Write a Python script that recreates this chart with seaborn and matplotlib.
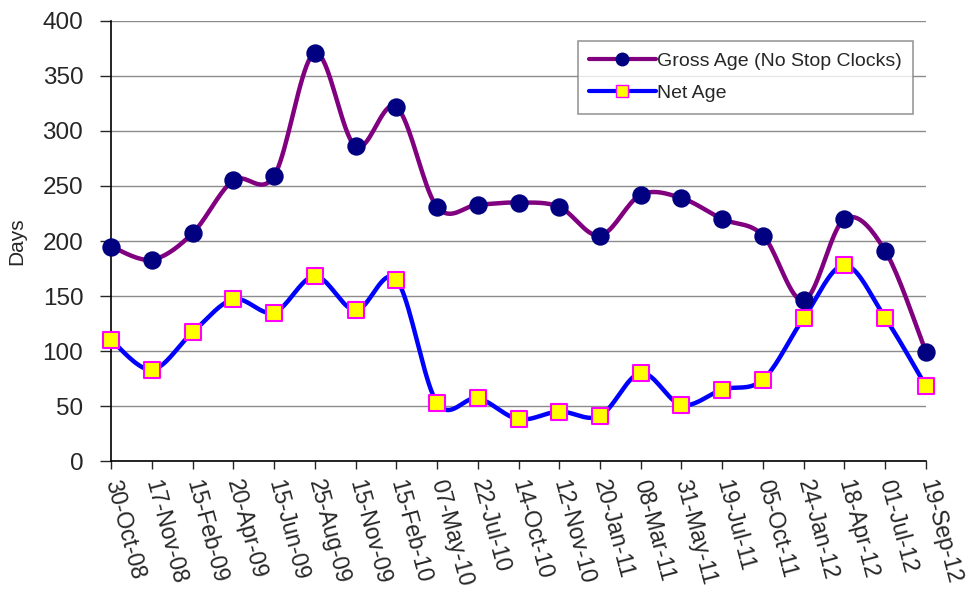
import numpy as np
import pandas as pd
import matplotlib
matplotlib.use('Agg')
import matplotlib.pyplot as plt
import seaborn as sns
from matplotlib.lines import Line2D

# 資料
dates = ['30-Oct-08', '17-Nov-08', '15-Feb-09', '20-Apr-09', '15-Jun-09', '25-Aug-09',
         '15-Nov-09', '15-Feb-10', '07-May-10', '22-Jul-10', '14-Oct-10', '12-Nov-10',
         '20-Jan-11', '08-Mar-11', '31-May-11', '19-Jul-11', '05-Oct-11', '24-Jan-12',
         '18-Apr-12', '01-Jul-12', '19-Sep-12']
gross_age = [195, 183, 207, 255, 259, 371, 286, 322, 231, 233, 235, 231,
             205, 242, 239, 220, 205, 146, 220, 191, 99]
net_age = [110, 83, 117, 147, 135, 168, 137, 165, 53, 57, 38, 45,
           41, 80, 51, 65, 74, 130, 178, 130, 68]


def smooth_curve(y, n=20):
    """Excel 風格平滑線 (Catmull-Rom)"""
    y = np.asarray(y, dtype=float)
    x = np.arange(len(y), dtype=float)
    p = np.concatenate([[y[0]], y, [y[-1]]])
    q = np.concatenate([[x[0]], x, [x[-1]]])
    xs, ys = [], []
    t = np.linspace(0, 1, n, endpoint=False)
    for i in range(len(y) - 1):
        p0, p1, p2, p3 = p[i], p[i + 1], p[i + 2], p[i + 3]
        q0, q1, q2, q3 = q[i], q[i + 1], q[i + 2], q[i + 3]
        for a, b, c, d, out in ((q0, q1, q2, q3, xs), (p0, p1, p2, p3, ys)):
            out.extend(0.5 * ((2 * b) + (-a + c) * t + (2 * a - 5 * b + 4 * c - d) * t ** 2
                              + (-a + 3 * b - 3 * c + d) * t ** 3))
    xs.append(x[-1])
    ys.append(y[-1])
    return np.array(xs), np.array(ys)


sns.set_style('white')
plt.rcParams['font.family'] = ['Liberation Sans', 'DejaVu Sans']

df = pd.DataFrame({'idx': range(len(dates)), 'gross': gross_age, 'net': net_age})

fig = plt.figure(figsize=(9.69, 6.05), dpi=100)
ax = fig.add_axes([0.1146, 0.238, 0.8410, 0.7273])

for col in range(0, 401, 50):
    ax.axhline(col, color='#8c8c8c', linewidth=1.0, zorder=0)

gx, gy = smooth_curve(gross_age)
nx, ny = smooth_curve(net_age)
sns.lineplot(x=gx, y=gy, ax=ax, color='#800080', linewidth=3.2, zorder=2, sort=False)
sns.lineplot(x=nx, y=ny, ax=ax, color='#0000FF', linewidth=3.2, zorder=2, sort=False)
sns.scatterplot(data=df, x='idx', y='gross', ax=ax, marker='o', s=150,
                color='#000080', edgecolor='#000080', zorder=3, clip_on=False)
sns.scatterplot(data=df, x='idx', y='net', ax=ax, marker='s', s=130,
                color='#FFFF00', edgecolor='#FF00FF', linewidth=1.5, zorder=4, clip_on=False)

ax.set_xlim(0, len(dates) - 1)
ax.set_ylim(0, 400)
ax.set_yticks(range(0, 401, 50))
ax.set_xticks(range(len(dates)))
ax.set_xticklabels(dates, rotation=-75, ha='left', va='center', rotation_mode='anchor')
ax.tick_params(axis='x', labelsize=16.5, length=6, width=1, direction='out', pad=8, bottom=True)
ax.tick_params(axis='y', labelsize=17.5, length=8, width=1, direction='out', pad=12, left=True)
ax.set_xlabel('')
ax.set_ylabel('Days', fontsize=15, labelpad=12)

for s in ['top', 'right']:
    ax.spines[s].set_visible(False)
for s in ['left', 'bottom']:
    ax.spines[s].set_color('black')
    ax.spines[s].set_linewidth(1.2)

handles = [
    Line2D([], [], color='#800080', linewidth=3, marker='o', markersize=9,
           markerfacecolor='#000080', markeredgecolor='#000080'),
    Line2D([], [], color='#0000FF', linewidth=3, marker='s', markersize=9,
           markerfacecolor='#FFFF00', markeredgecolor='#FF00FF'),
]
leg = ax.legend(handles, ['Gross Age (No Stop Clocks)', 'Net Age'],
                loc='upper right', bbox_to_anchor=(0.984, 0.955), fontsize=14,
                frameon=True, fancybox=False, handlelength=3.4, handletextpad=0.05,
                borderpad=0.6, labelspacing=0.75, borderaxespad=0.0)
leg.get_frame().set_edgecolor('#808080')
leg.get_frame().set_linewidth(1.2)

plt.savefig('out.png', dpi=100)
plt.close()
